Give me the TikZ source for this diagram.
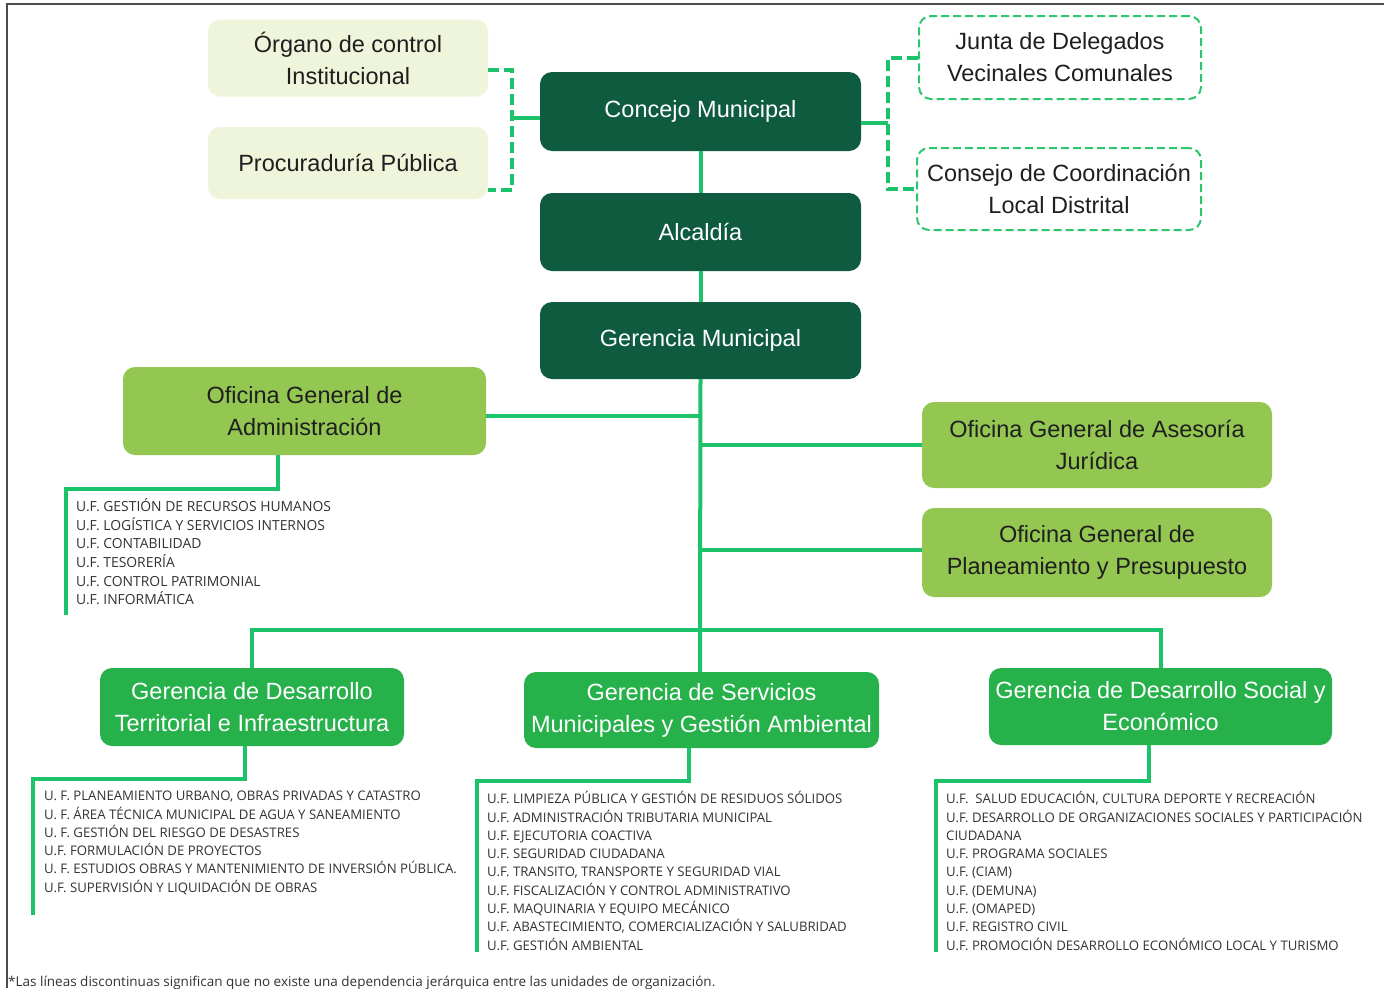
\documentclass[tikz,border=0pt]{standalone}
\usepackage{fontspec}
\setmainfont{Liberation Sans}
\newfontfamily\listfam{Open Sans}
\definecolor{darkg}{HTML}{0F5B3F}
\definecolor{cream}{HTML}{EFF5DA}
\definecolor{lightg}{HTML}{93C752}
\definecolor{midg}{HTML}{27B14B}
\definecolor{lineg}{HTML}{1DC36B}
\definecolor{dashg}{HTML}{2DC56E}
\definecolor{txtg}{HTML}{333333}
\newcommand\boxfont{\fontsize{23.5}{32}\selectfont}
\newcommand\listfont{\listfam\fontsize{13.2}{18.3}\selectfont}
\tikzset{
 box/.style={rounded corners=12pt, align=center, inner sep=0pt, font=\boxfont},
 darkbox/.style={box, fill=darkg, text=white, minimum width=321pt},
 creambox/.style={box, fill=cream, text=black!88, minimum width=280pt},
 dashbox/.style={box, draw=dashg, line width=2pt, dash pattern=on 8pt off 4pt, fill=white, text=black!88},
 ofbox/.style={box, fill=lightg, text=black!88},
 gerbox/.style={box, fill=midg, text=white},
 conn/.style={draw=lineg, line width=4pt},
 dconn/.style={conn, dash pattern=on 11pt off 5pt},
 ulist/.style={anchor=north west, inner sep=0pt, align=left, font=\listfont, text=txtg},
}
\begin{document}
\begin{tikzpicture}[x=1pt,y=-1pt]
\useasboundingbox (0,0) rectangle (1384,988);
\fill[white] (0,0) rectangle (1384,988);
\draw[black!70, line width=1.5pt] (7,988) -- (7,4) -- (1384,4);

% top level
\node[creambox, minimum height=77pt] (organo) at (348,58) {Órgano de control\\Institucional};
\node[creambox, minimum height=72pt] (procu) at (348,163) {Procuraduría Pública};
\node[darkbox, minimum height=79pt] (concejo) at (700.5,111.5) {Concejo Municipal};
\node[darkbox, minimum height=78pt] (alcaldia) at (700.5,232) {Alcaldía};
\node[darkbox, minimum height=77pt] (gerencia) at (700.5,340.5) {Gerencia Municipal};
\node[dashbox, minimum width=282pt, minimum height=83pt] (junta) at (1060,57.5) {Junta de Delegados\\Vecinales Comunales};
\node[dashbox, minimum width=284pt, minimum height=82pt] (consejo) at (1059,189) {Consejo de Coordinación\\Local Distrital};

% offices
\node[ofbox, minimum width=363pt, minimum height=88pt] (admin) at (304.5,411) {Oficina General de\\Administración};
\node[ofbox, minimum width=350pt, minimum height=86pt] (asesoria) at (1097,445) {Oficina General de Asesoría\\Jurídica};
\node[ofbox, minimum width=350pt, minimum height=89pt] (planea) at (1097,552.5) {Oficina General de\\Planeamiento y Presupuesto};

% gerencias
\node[gerbox, minimum width=304pt, minimum height=78pt] (terr) at (252,707) {Gerencia de Desarrollo\\Territorial e Infraestructura};
\node[gerbox, minimum width=355pt, minimum height=76pt] (serv) at (701.5,710) {Gerencia de Servicios\\Municipales y Gestión Ambiental};
\node[gerbox, minimum width=343pt, minimum height=77pt] (social) at (1160.5,706.5) {Gerencia de Desarrollo Social y\\Económico};

% lists
\node[ulist, font=\listfam\fontsize{13.9}{18.6}\selectfont] (adminlist) at (76,498.5) {\strut U.F. GESTIÓN DE RECURSOS HUMANOS\\U.F. LOGÍSTICA Y SERVICIOS INTERNOS\\U.F. CONTABILIDAD\\U.F. TESORERÍA\\U.F. CONTROL PATRIMONIAL\\U.F. INFORMÁTICA};
\node[ulist] (terrlist) at (44,787.7) {\strut U. F. PLANEAMIENTO URBANO, OBRAS PRIVADAS Y CATASTRO\\U. F. ÁREA TÉCNICA MUNICIPAL DE AGUA Y SANEAMIENTO\\U. F. GESTIÓN DEL RIESGO DE DESASTRES\\U.F. FORMULACIÓN DE PROYECTOS\\U. F. ESTUDIOS OBRAS Y MANTENIMIENTO DE INVERSIÓN PÚBLICA.\\U.F. SUPERVISIÓN Y LIQUIDACIÓN DE OBRAS};
\node[ulist] (servlist) at (487,790.7) {\strut U.F. LIMPIEZA PÚBLICA Y GESTIÓN DE RESIDUOS SÓLIDOS\\U.F. ADMINISTRACIÓN TRIBUTARIA MUNICIPAL\\U.F. EJECUTORIA COACTIVA\\U.F. SEGURIDAD CIUDADANA\\U.F. TRANSITO, TRANSPORTE Y SEGURIDAD VIAL\\U.F. FISCALIZACIÓN Y CONTROL ADMINISTRATIVO\\U.F. MAQUINARIA Y EQUIPO MECÁNICO\\U.F. ABASTECIMIENTO, COMERCIALIZACIÓN Y SALUBRIDAD\\U.F. GESTIÓN AMBIENTAL};
\node[ulist] (sociallist) at (946,790.7) {\strut U.F.\ \ SALUD EDUCACIÓN, CULTURA DEPORTE Y RECREACIÓN\\U.F. DESARROLLO DE ORGANIZACIONES SOCIALES Y PARTICIPACIÓN\\CIUDADANA\\U.F. PROGRAMA SOCIALES\\U.F. (CIAM)\\U.F. (DEMUNA)\\U.F. (OMAPED)\\U.F. REGISTRO CIVIL\\U.F. PROMOCIÓN DESARROLLO ECONÓMICO LOCAL Y TURISMO};

\node[anchor=base west, inner sep=0pt, font=\listfam\fontsize{13.5}{16}\selectfont, text=txtg] (note) at (8,986.5) {*Las líneas discontinuas significan que no existe una dependencia jerárquica entre las unidades de organización.};

% coordinates
\coordinate (lx) at (512,118);
\coordinate (rx) at (888,123);
\coordinate (bus) at (700,630);
\coordinate (adminbend) at (66,489);
\coordinate (adminend) at (66,615);
\coordinate (terrbend) at (33,779);
\coordinate (terrend) at (33,915);
\coordinate (servbend) at (477,781);
\coordinate (servend) at (477,952);
\coordinate (socialbend) at (936,781);
\coordinate (socialend) at (936,952);

% connectors
\draw[conn] (concejo.south) -- (alcaldia.north);
\draw[conn] (alcaldia.south) -- (gerencia.north);
\draw[conn] (gerencia.south) -- (bus) -- (serv.north -| bus);
\draw[dconn] ([yshift=-12pt]organo.east) -| (lx) |- ([yshift=-27pt]procu.east);
\draw[conn] (lx -| concejo.west) -- (lx);
\draw[dconn] (junta.west) -| (rx) |- (consejo.west);
\draw[conn] (rx -| concejo.east) -- (rx);
\draw[conn] ([yshift=-5pt]admin.east) -- ([yshift=-5pt]admin.east -| bus);
\draw[conn] (asesoria.west) -- (asesoria.west -| bus);
\draw[conn] ([yshift=3pt]planea.west) -- ([yshift=3pt]planea.west -| bus);
\draw[conn] (terr.north) -- (terr.north |- bus) -- (social.north |- bus) -- (social.north);
\draw[conn] ([xshift=-26.5pt]admin.south) |- (adminbend) -- (adminend);
\draw[conn] ([xshift=-7pt]terr.south) |- (terrbend) -- (terrend);
\draw[conn] ([xshift=-12.5pt]serv.south) |- (servbend) -- (servend);
\draw[conn] ([xshift=-11.5pt]social.south) |- (socialbend) -- (socialend);
\end{tikzpicture}
\end{document}
